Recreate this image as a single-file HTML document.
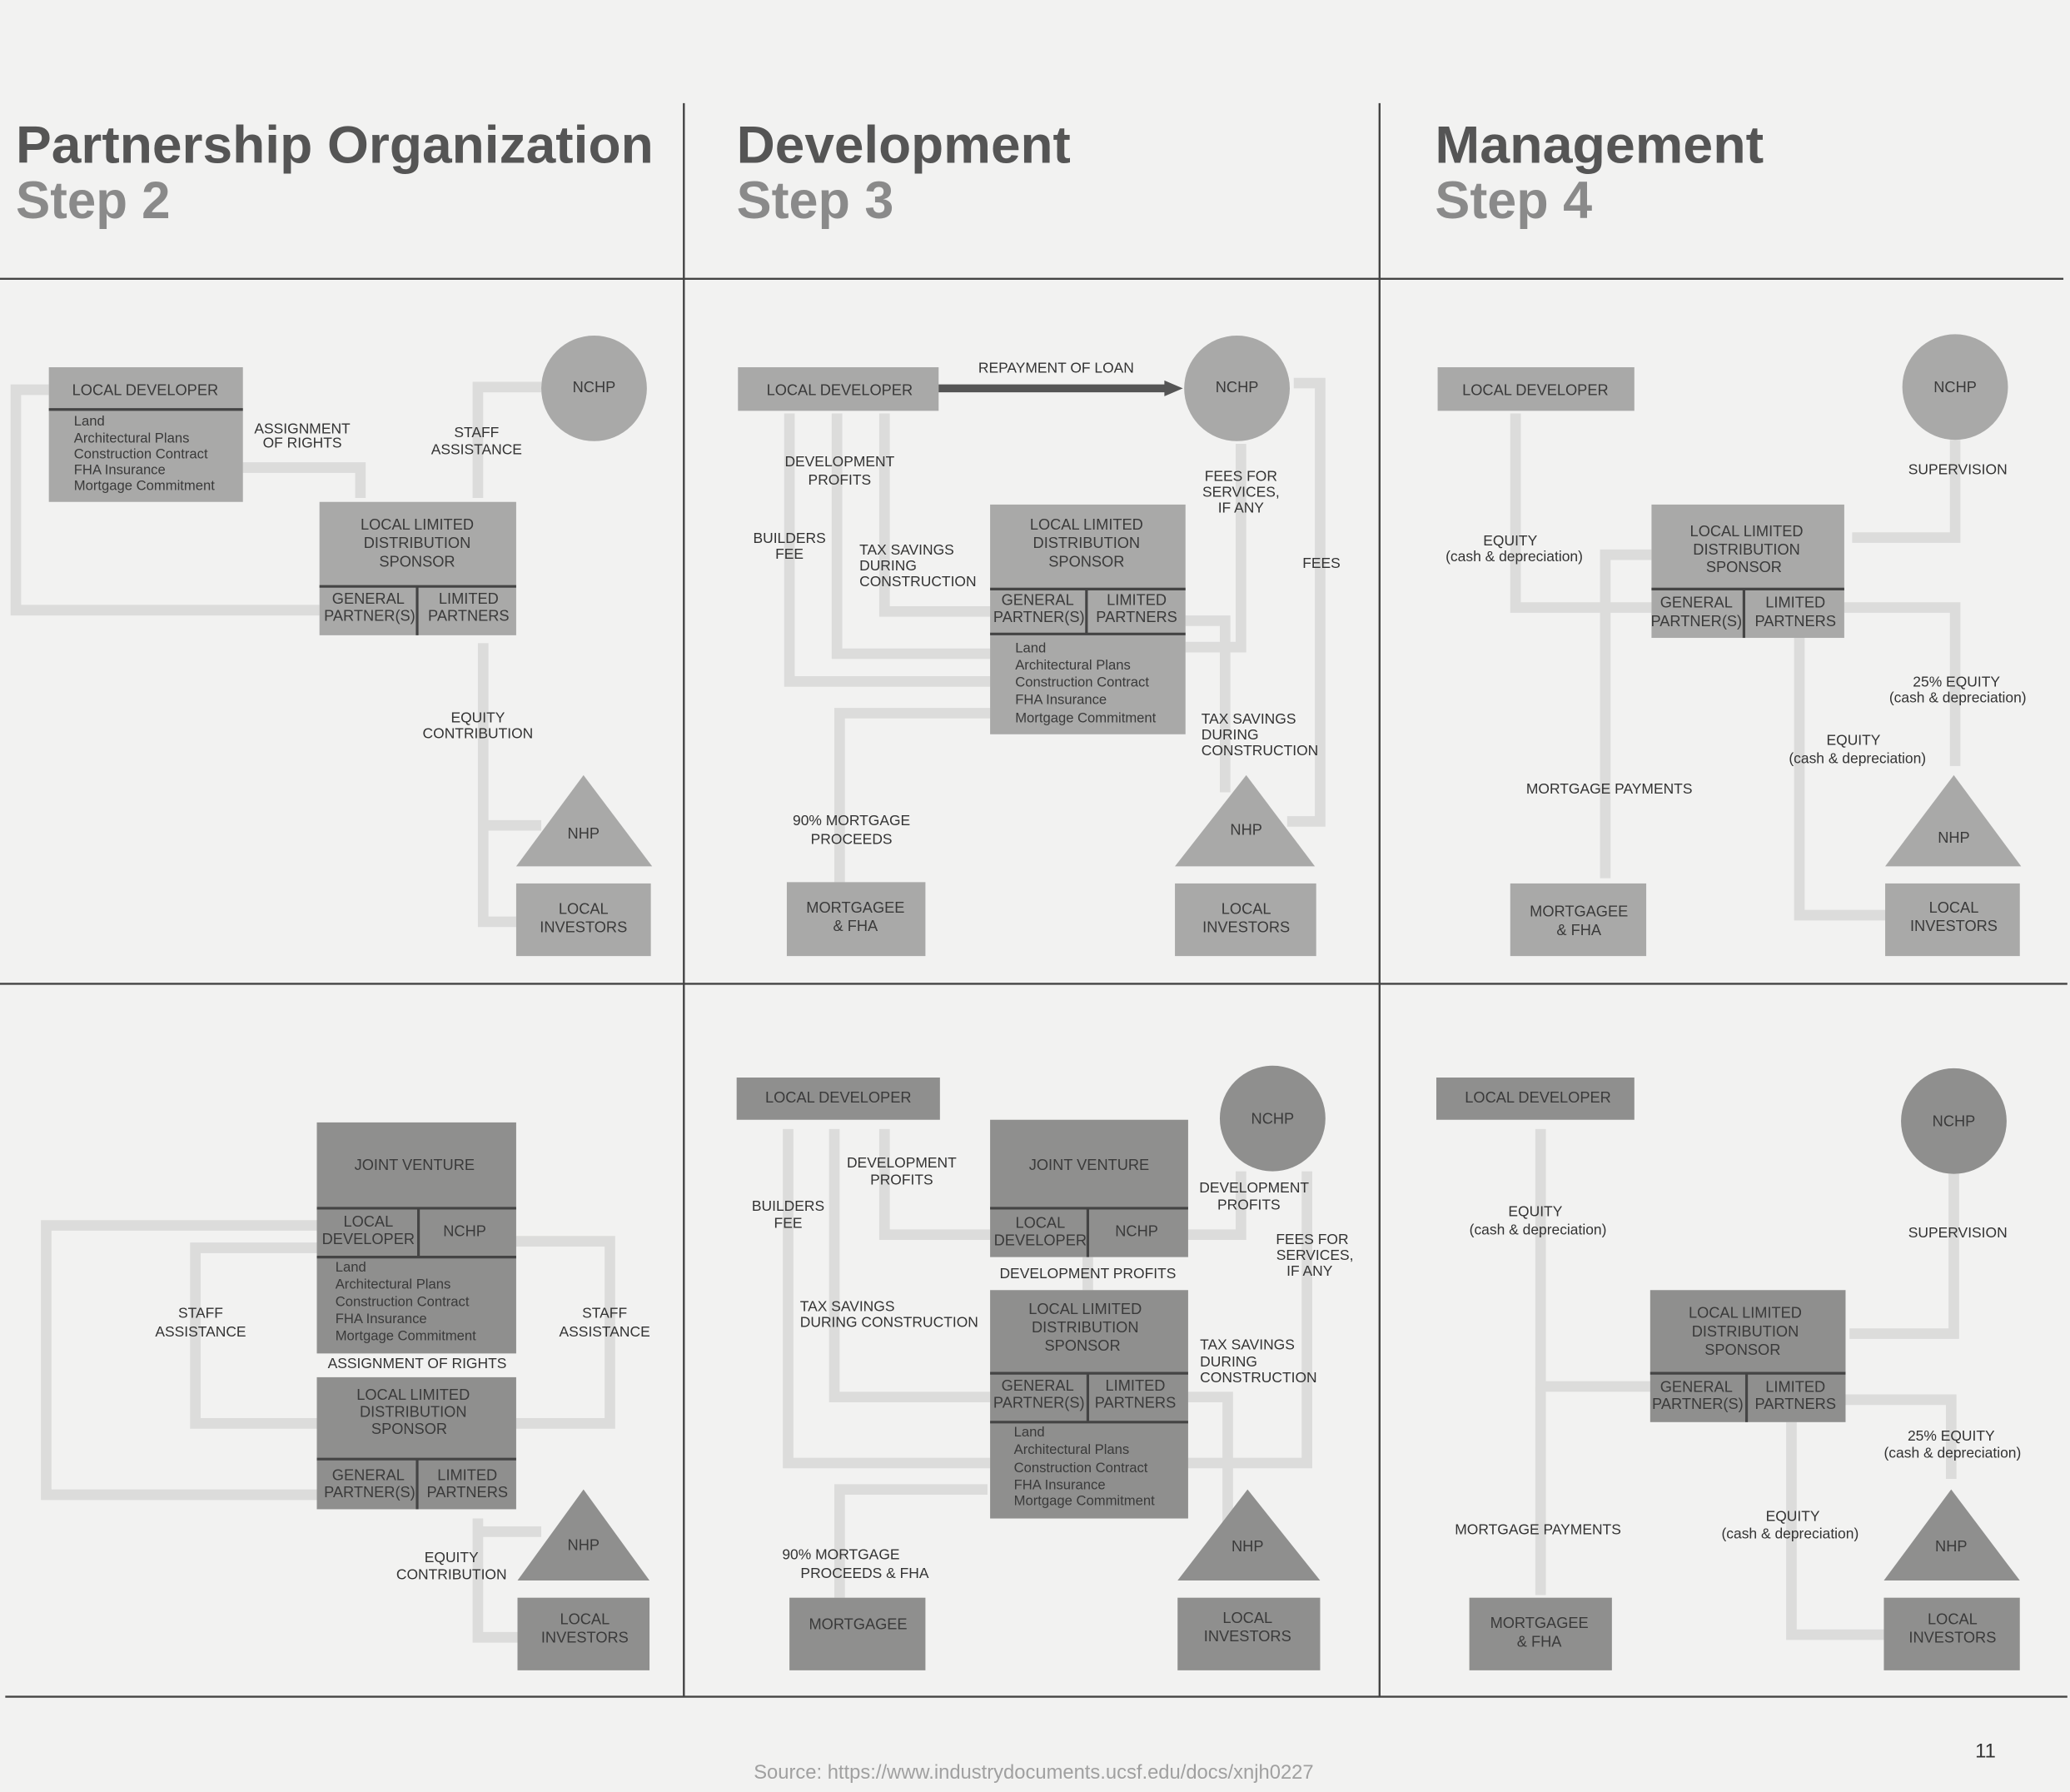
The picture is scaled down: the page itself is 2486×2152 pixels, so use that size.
<!DOCTYPE html>
<html><head><meta charset="utf-8"><style>
html,body{margin:0;padding:0;background:#f2f2f1}
svg{display:block}
text{font-family:"Liberation Sans",sans-serif}
.t{font-size:11.5px;fill:#3a3a3a;text-anchor:middle}
.l{font-size:11px;fill:#333;text-anchor:middle}
.s{font-size:10.5px;fill:#3a3a3a}
.c{fill:none;stroke:#dcdcdb;stroke-width:8}
.a{fill:#a9a9a8}
.b{fill:#8f8f8e}
.d{stroke:#444;stroke-width:2}
</style></head><body>
<svg width="2486" height="2152" viewBox="0 0 1568 1357" xmlns="http://www.w3.org/2000/svg">
<rect width="1568" height="1357" fill="#f2f2f1"/>
<!-- grid lines -->
<g stroke="#444" stroke-width="1.5">
<line x1="0" y1="211" x2="1563" y2="211"/>
<line x1="0" y1="745" x2="1566" y2="745"/>
<line x1="4" y1="1285" x2="1566" y2="1285"/>
<line x1="518" y1="78" x2="518" y2="1285"/>
<line x1="1045" y1="78" x2="1045" y2="1285"/>
</g>
<!-- titles -->
<g font-weight="bold" font-size="40">
<text x="12" y="123" fill="#555" textLength="483" lengthAdjust="spacingAndGlyphs">Partnership Organization</text>
<text x="12" y="165" fill="#8a8a8a" textLength="117" lengthAdjust="spacingAndGlyphs">Step 2</text>
<text x="558" y="123" fill="#555" textLength="253" lengthAdjust="spacingAndGlyphs">Development</text>
<text x="558" y="165" fill="#8a8a8a" textLength="119" lengthAdjust="spacingAndGlyphs">Step 3</text>
<text x="1087" y="123" fill="#555" textLength="249" lengthAdjust="spacingAndGlyphs">Management</text>
<text x="1087" y="165" fill="#8a8a8a" textLength="119" lengthAdjust="spacingAndGlyphs">Step 4</text>
</g>

<!-- ===== PANEL 1 ===== -->
<g class="c">
<polyline points="37,295 12,295 12,462 242,462"/>
<polyline points="184,354 273,354 273,377"/>
<polyline points="410,293 362,293 362,377"/>
<polyline points="366,487 366,698 391,698"/>
<line x1="366" y1="625" x2="410" y2="625"/>
</g>
<rect class="a" x="37" y="278" width="147" height="102"/>
<line class="d" x1="37" y1="310" x2="184" y2="310"/>
<text class="t" x="110" y="299">LOCAL DEVELOPER</text>
<g class="s"><text x="56" y="322">Land</text><text x="56" y="335">Architectural Plans</text><text x="56" y="347">Construction Contract</text><text x="56" y="359">FHA Insurance</text><text x="56" y="371">Mortgage Commitment</text></g>
<circle class="a" cx="450" cy="294" r="40"/><text class="t" x="450" y="297">NCHP</text>
<rect class="a" x="242" y="380" width="149" height="101"/>
<line class="d" x1="242" y1="444" x2="391" y2="444"/><line class="d" x1="316" y1="444" x2="316" y2="481"/>
<text class="t" x="316" y="401">LOCAL LIMITED</text><text class="t" x="316" y="415">DISTRIBUTION</text><text class="t" x="316" y="429">SPONSOR</text>
<text class="t" x="279" y="457">GENERAL</text><text class="t" x="280" y="470">PARTNER(S)</text>
<text class="t" x="355" y="457">LIMITED</text><text class="t" x="355" y="470">PARTNERS</text>
<polygon class="a" points="442,587 391,656 494,656"/><text class="t" x="442" y="635">NHP</text>
<rect class="a" x="391" y="669" width="102" height="55"/><text class="t" x="442" y="692">LOCAL</text><text class="t" x="442" y="706">INVESTORS</text>
<text class="l" x="229" y="328">ASSIGNMENT</text><text class="l" x="229" y="339">OF RIGHTS</text>
<text class="l" x="361" y="331">STAFF</text><text class="l" x="361" y="344">ASSISTANCE</text>
<text class="l" x="362" y="547">EQUITY</text><text class="l" x="362" y="559">CONTRIBUTION</text>

<!-- ===== PANEL 2 ===== -->
<g class="c">
<polyline points="598,313 598,516 750,516"/>
<polyline points="634,313 634,495 750,495"/>
<polyline points="670,313 670,463 750,463"/>
<polyline points="636,668 636,540 750,540"/>
<polyline points="940,336 940,490 898,490"/>
<polyline points="898,470 928,470 928,600"/>
<polyline points="975,622 1000,622 1000,290 980,290"/>
</g>
<rect class="a" x="559" y="278" width="152" height="33"/><text class="t" x="636" y="299">LOCAL DEVELOPER</text>
<line x1="711" y1="294" x2="885" y2="294" stroke="#555" stroke-width="6"/>
<polygon points="882,288 896,294 882,300" fill="#555"/>
<text class="l" x="800" y="282">REPAYMENT OF LOAN</text>
<circle class="a" cx="937" cy="294" r="40"/><text class="t" x="937" y="297">NCHP</text>
<rect class="a" x="750" y="382" width="148" height="174"/>
<line class="d" x1="750" y1="446" x2="898" y2="446"/><line class="d" x1="750" y1="480" x2="898" y2="480"/><line class="d" x1="823" y1="446" x2="823" y2="480"/>
<text class="t" x="823" y="401">LOCAL LIMITED</text><text class="t" x="823" y="415">DISTRIBUTION</text><text class="t" x="823" y="429">SPONSOR</text>
<text class="t" x="786" y="458">GENERAL</text><text class="t" x="787" y="471">PARTNER(S)</text>
<text class="t" x="861" y="458">LIMITED</text><text class="t" x="861" y="471">PARTNERS</text>
<g class="s"><text x="769" y="494">Land</text><text x="769" y="507">Architectural  Plans</text><text x="769" y="520">Construction  Contract</text><text x="769" y="533">FHA  Insurance</text><text x="769" y="547">Mortgage  Commitment</text></g>
<rect class="a" x="596" y="668" width="105" height="56"/><text class="t" x="648" y="691">MORTGAGEE</text><text class="t" x="648" y="705">&amp; FHA</text>
<polygon class="a" points="944,587 890,656 996,656"/><text class="t" x="944" y="632">NHP</text>
<rect class="a" x="890" y="669" width="107" height="55"/><text class="t" x="944" y="692">LOCAL</text><text class="t" x="944" y="706">INVESTORS</text>
<text class="l" x="636" y="353">DEVELOPMENT</text><text class="l" x="636" y="367">PROFITS</text>
<text class="l" x="598" y="411">BUILDERS</text><text class="l" x="598" y="423">FEE</text>
<text class="l" x="651" y="420" text-anchor="start" style="text-anchor:start">TAX SAVINGS</text><text class="l" x="651" y="432" style="text-anchor:start">DURING</text><text class="l" x="651" y="444" style="text-anchor:start">CONSTRUCTION</text>
<text class="l" x="940" y="364">FEES FOR</text><text class="l" x="940" y="376">SERVICES,</text><text class="l" x="940" y="388">IF ANY</text>
<text class="l" x="1001" y="430">FEES</text>
<text class="l" x="910" y="548" style="text-anchor:start">TAX SAVINGS</text><text class="l" x="910" y="560" style="text-anchor:start">DURING</text><text class="l" x="910" y="572" style="text-anchor:start">CONSTRUCTION</text>
<text class="l" x="645" y="625">90% MORTGAGE</text><text class="l" x="645" y="639">PROCEEDS</text>

<!-- ===== PANEL 3 ===== -->
<g class="c">
<polyline points="1148,313 1148,460 1251,460"/>
<polyline points="1251,420 1216,420 1216,665"/>
<polyline points="1481,333 1481,407 1403,407"/>
<polyline points="1397,460 1481,460 1481,580"/>
<polyline points="1363,483 1363,693 1428,693"/>
</g>
<rect class="a" x="1089" y="278" width="149" height="33"/><text class="t" x="1163" y="299">LOCAL DEVELOPER</text>
<circle class="a" cx="1481" cy="293" r="40"/><text class="t" x="1481" y="297">NCHP</text>
<rect class="a" x="1251" y="382" width="146" height="101"/>
<line class="d" x1="1251" y1="446" x2="1397" y2="446"/><line class="d" x1="1321" y1="446" x2="1321" y2="483"/>
<text class="t" x="1323" y="406">LOCAL LIMITED</text><text class="t" x="1323" y="420">DISTRIBUTION</text><text class="t" x="1321" y="433">SPONSOR</text>
<text class="t" x="1285" y="460">GENERAL</text><text class="t" x="1285" y="474">PARTNER(S)</text>
<text class="t" x="1360" y="460">LIMITED</text><text class="t" x="1360" y="474">PARTNERS</text>
<polygon class="a" points="1480,587 1428,656 1531,656"/><text class="t" x="1480" y="638">NHP</text>
<rect class="a" x="1428" y="669" width="102" height="55"/><text class="t" x="1480" y="691">LOCAL</text><text class="t" x="1480" y="705">INVESTORS</text>
<rect class="a" x="1144" y="669" width="103" height="55"/><text class="t" x="1196" y="694">MORTGAGEE</text><text class="t" x="1196" y="708">&amp; FHA</text>
<text class="l" x="1144" y="413">EQUITY</text><text class="l" x="1147" y="425">(cash &amp; depreciation)</text>
<text class="l" x="1483" y="359">SUPERVISION</text>
<text class="l" x="1482" y="520">25% EQUITY</text><text class="l" x="1483" y="532">(cash &amp; depreciation)</text>
<text class="l" x="1404" y="564">EQUITY</text><text class="l" x="1407" y="578">(cash &amp; depreciation)</text>
<text class="l" x="1219" y="601">MORTGAGE PAYMENTS</text>

<!-- ===== PANEL 4 ===== -->
<g class="c">
<polyline points="240,928 35,928 35,1132 240,1132"/>
<polyline points="240,945 148,945 148,1078 240,1078"/>
<polyline points="391,940 462,940 462,1078 391,1078"/>
<polyline points="362,1150 362,1240 392,1240"/>
<line x1="362" y1="1160" x2="410" y2="1160"/>
</g>
<rect class="b" x="240" y="850" width="151" height="175"/>
<line class="d" x1="240" y1="915" x2="391" y2="915"/><line class="d" x1="240" y1="952" x2="391" y2="952"/><line class="d" x1="317" y1="915" x2="317" y2="952"/>
<text class="t" x="314" y="886">JOINT VENTURE</text>
<text class="t" x="279" y="929">LOCAL</text><text class="t" x="279" y="942">DEVELOPER</text><text class="t" x="352" y="936">NCHP</text>
<g class="s"><text x="254" y="963">Land</text><text x="254" y="976">Architectural  Plans</text><text x="254" y="989">Construction  Contract</text><text x="254" y="1002">FHA  Insurance</text><text x="254" y="1015">Mortgage  Commitment</text></g>
<text class="l" x="316" y="1036">ASSIGNMENT OF RIGHTS</text>
<rect class="b" x="240" y="1043" width="151" height="100"/>
<line class="d" x1="240" y1="1105" x2="391" y2="1105"/><line class="d" x1="316" y1="1105" x2="316" y2="1143"/>
<text class="t" x="313" y="1060">LOCAL LIMITED</text><text class="t" x="313" y="1073">DISTRIBUTION</text><text class="t" x="310" y="1086">SPONSOR</text>
<text class="t" x="279" y="1121">GENERAL</text><text class="t" x="280" y="1134">PARTNER(S)</text>
<text class="t" x="354" y="1121">LIMITED</text><text class="t" x="354" y="1134">PARTNERS</text>
<polygon class="b" points="442,1128 392,1197 492,1197"/><text class="t" x="442" y="1174">NHP</text>
<rect class="b" x="392" y="1210" width="100" height="55"/><text class="t" x="443" y="1230">LOCAL</text><text class="t" x="443" y="1244">INVESTORS</text>
<text class="l" x="152" y="998">STAFF</text><text class="l" x="152" y="1012">ASSISTANCE</text>
<text class="l" x="458" y="998">STAFF</text><text class="l" x="458" y="1012">ASSISTANCE</text>
<text class="l" x="342" y="1183">EQUITY</text><text class="l" x="342" y="1196">CONTRIBUTION</text>

<!-- ===== PANEL 5 ===== -->
<g class="c">
<polyline points="597,855 597,1108 750,1108"/>
<polyline points="632,855 632,1058 750,1058"/>
<polyline points="670,855 670,935 750,935"/>
<polyline points="636,1210 636,1128 748,1128"/>
<polyline points="940,887 940,935 900,935"/>
<polyline points="990,887 990,1108 900,1108"/>
<polyline points="900,1058 930,1058 930,1165"/>
<line x1="824" y1="952" x2="824" y2="977"/>
</g>
<rect class="b" x="558" y="816" width="154" height="32"/><text class="t" x="635" y="835">LOCAL  DEVELOPER</text>
<circle class="b" cx="964" cy="847" r="40"/><text class="t" x="964" y="851">NCHP</text>
<rect class="b" x="750" y="848" width="150" height="104"/>
<line class="d" x1="750" y1="915" x2="900" y2="915"/><line class="d" x1="824" y1="915" x2="824" y2="952"/>
<text class="t" x="825" y="886">JOINT VENTURE</text>
<text class="t" x="788" y="930">LOCAL</text><text class="t" x="788" y="943">DEVELOPER</text><text class="t" x="861" y="936">NCHP</text>
<text class="l" x="824" y="968">DEVELOPMENT  PROFITS</text>
<rect class="b" x="750" y="977" width="150" height="173"/>
<line class="d" x1="750" y1="1040" x2="900" y2="1040"/><line class="d" x1="750" y1="1077" x2="900" y2="1077"/><line class="d" x1="824" y1="1040" x2="824" y2="1077"/>
<text class="t" x="822" y="995">LOCAL LIMITED</text><text class="t" x="822" y="1009">DISTRIBUTION</text><text class="t" x="820" y="1023">SPONSOR</text>
<text class="t" x="786" y="1053">GENERAL</text><text class="t" x="787" y="1066">PARTNER(S)</text>
<text class="t" x="860" y="1053">LIMITED</text><text class="t" x="860" y="1066">PARTNERS</text>
<g class="s"><text x="768" y="1088">Land</text><text x="768" y="1101">Architectural  Plans</text><text x="768" y="1115">Construction  Contract</text><text x="768" y="1128">FHA  Insurance</text><text x="768" y="1140">Mortgage  Commitment</text></g>
<rect class="b" x="598" y="1210" width="103" height="55"/><text class="t" x="650" y="1234">MORTGAGEE</text>
<polygon class="b" points="945,1128 892,1197 1000,1197"/><text class="t" x="945" y="1175">NHP</text>
<rect class="b" x="892" y="1210" width="108" height="55"/><text class="t" x="945" y="1229">LOCAL</text><text class="t" x="945" y="1243">INVESTORS</text>
<text class="l" x="683" y="884">DEVELOPMENT</text><text class="l" x="683" y="897">PROFITS</text>
<text class="l" x="597" y="917">BUILDERS</text><text class="l" x="597" y="930">FEE</text>
<text class="l" x="606" y="993" style="text-anchor:start">TAX SAVINGS</text><text class="l" x="606" y="1005" style="text-anchor:start">DURING CONSTRUCTION</text>
<text class="l" x="950" y="903">DEVELOPMENT</text><text class="l" x="946" y="916">PROFITS</text>
<text class="l" x="994" y="942">FEES FOR</text><text class="l" x="996" y="954">SERVICES,</text><text class="l" x="992" y="966">IF ANY</text>
<text class="l" x="909" y="1022" style="text-anchor:start">TAX SAVINGS</text><text class="l" x="909" y="1035" style="text-anchor:start">DURING</text><text class="l" x="909" y="1047" style="text-anchor:start">CONSTRUCTION</text>
<text class="l" x="637" y="1181">90% MORTGAGE</text><text class="l" x="655" y="1195">PROCEEDS &amp; FHA</text>

<!-- ===== PANEL 6 ===== -->
<g class="c">
<polyline points="1167,855 1167,1050 1250,1050"/>
<line x1="1167" y1="1050" x2="1167" y2="1208"/>
<polyline points="1480,889 1480,1010 1401,1010"/>
<polyline points="1398,1060 1478,1060 1478,1120"/>
<polyline points="1357,1077 1357,1238 1427,1238"/>
</g>
<rect class="b" x="1088" y="816" width="150" height="32"/><text class="t" x="1165" y="835">LOCAL DEVELOPER</text>
<circle class="b" cx="1480" cy="849" r="40"/><text class="t" x="1480" y="853">NCHP</text>
<rect class="b" x="1250" y="977" width="148" height="100"/>
<line class="d" x1="1250" y1="1040" x2="1398" y2="1040"/><line class="d" x1="1323" y1="1040" x2="1323" y2="1077"/>
<text class="t" x="1322" y="998">LOCAL LIMITED</text><text class="t" x="1322" y="1012">DISTRIBUTION</text><text class="t" x="1320" y="1026">SPONSOR</text>
<text class="t" x="1285" y="1054">GENERAL</text><text class="t" x="1286" y="1067">PARTNER(S)</text>
<text class="t" x="1360" y="1054">LIMITED</text><text class="t" x="1360" y="1067">PARTNERS</text>
<polygon class="b" points="1478,1128 1427,1197 1530,1197"/><text class="t" x="1478" y="1175">NHP</text>
<rect class="b" x="1427" y="1210" width="103" height="55"/><text class="t" x="1479" y="1230">LOCAL</text><text class="t" x="1479" y="1244">INVESTORS</text>
<rect class="b" x="1113" y="1210" width="108" height="55"/><text class="t" x="1166" y="1233">MORTGAGEE</text><text class="t" x="1166" y="1247">&amp; FHA</text>
<text class="l" x="1163" y="921">EQUITY</text><text class="l" x="1165" y="935">(cash &amp; depreciation)</text>
<text class="l" x="1483" y="937">SUPERVISION</text>
<text class="l" x="1478" y="1091">25% EQUITY</text><text class="l" x="1479" y="1104">(cash &amp; depreciation)</text>
<text class="l" x="1358" y="1152">EQUITY</text><text class="l" x="1356" y="1165">(cash &amp; depreciation)</text>
<text class="l" x="1165" y="1162">MORTGAGE PAYMENTS</text>

<text x="1504" y="1331" font-size="15" fill="#333" text-anchor="middle">11</text>
<text x="783" y="1347" font-size="15" fill="#a0a0a0" text-anchor="middle">Source: https://www.industrydocuments.ucsf.edu/docs/xnjh0227</text>
</svg>
</body></html>
